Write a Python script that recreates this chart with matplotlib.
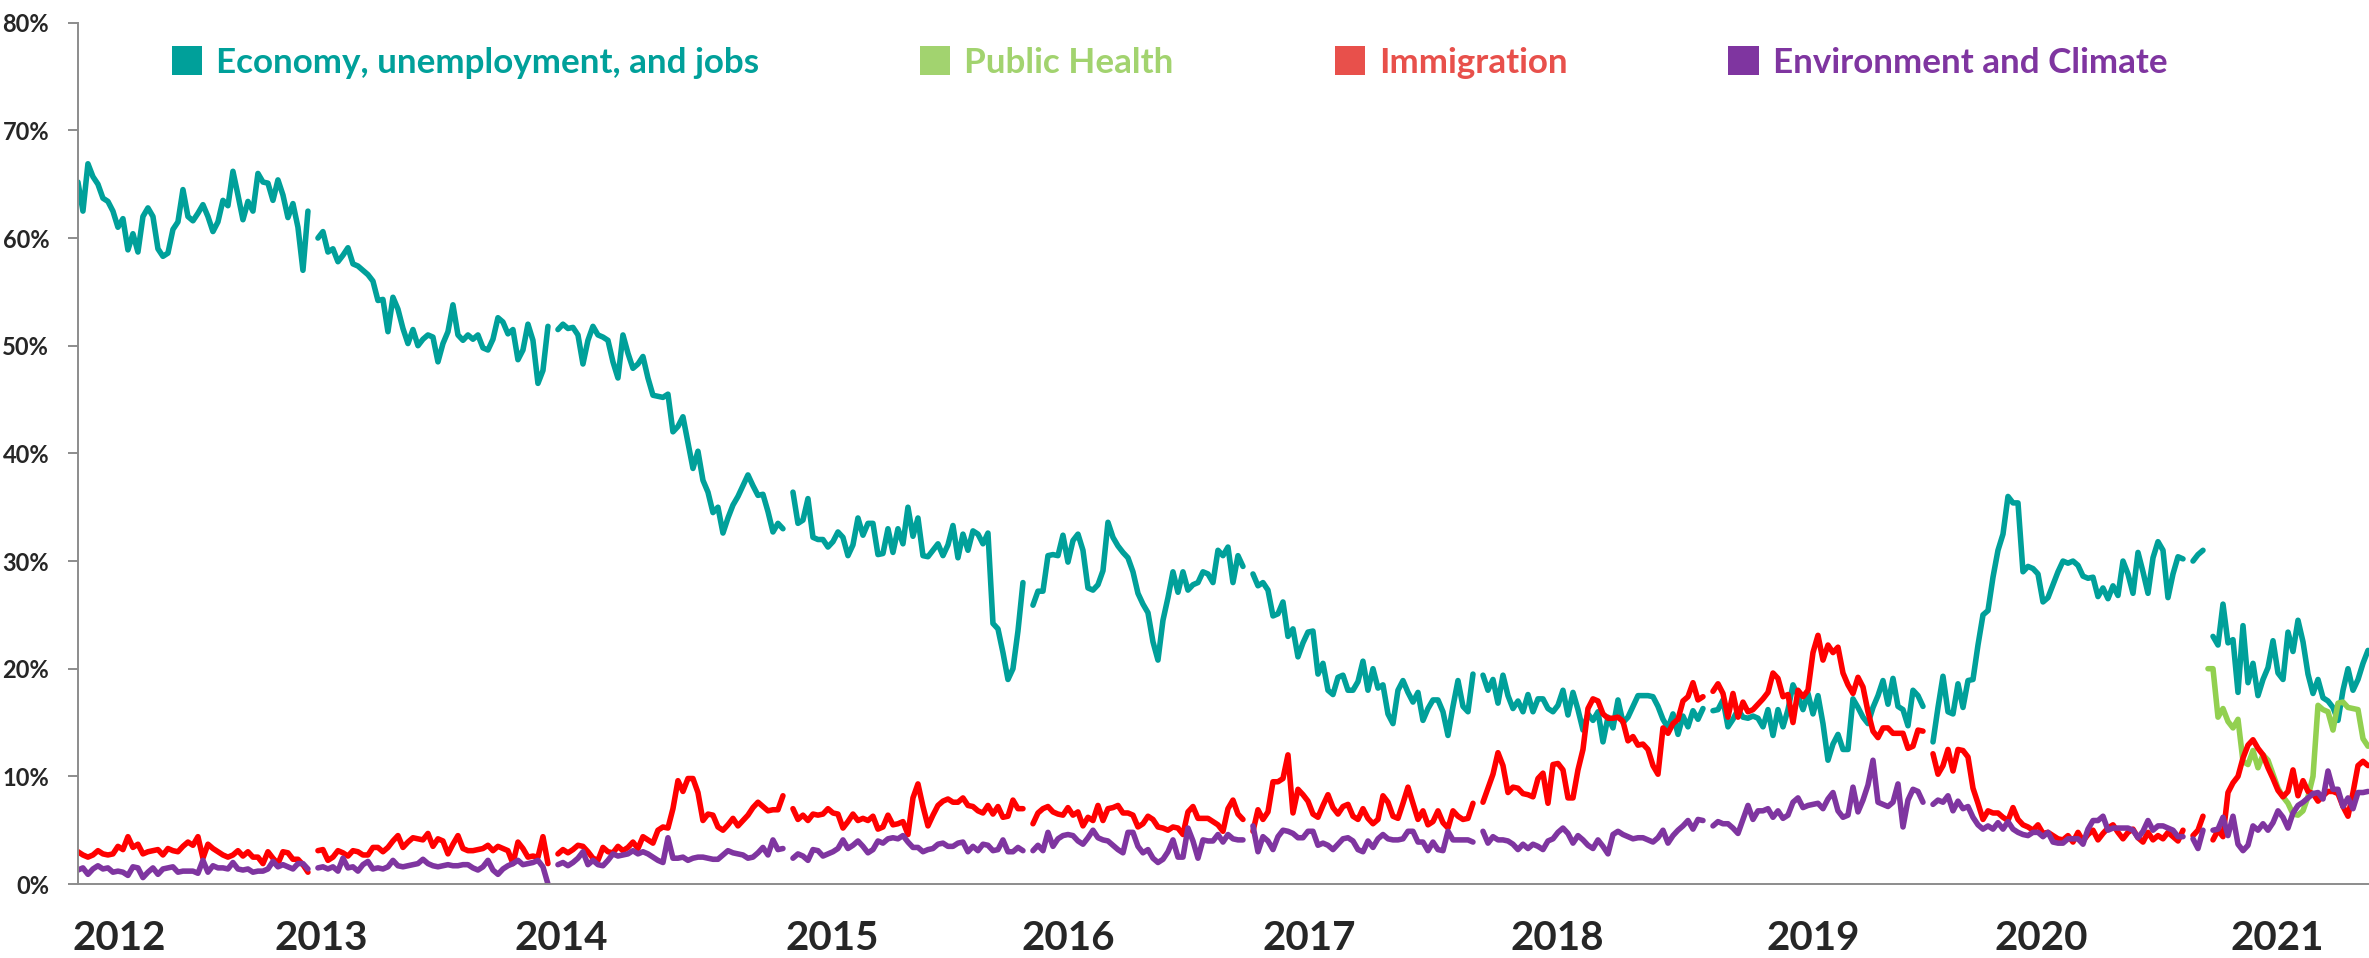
import numpy as np
import matplotlib.pyplot as plt
from matplotlib.patches import Patch
from matplotlib.ticker import FuncFormatter

# share of respondents (%) per weekly survey, None = no survey that week
economy = [
    65.2, 62.5, 66.9, 65.7, 65.0, 63.7, 63.4, 62.5, 61.0, 61.8,
    58.9, 60.4, 58.7, 62.0, 62.8, 62.0, 59.0, 58.3, 58.6, 60.8,
    61.5, 64.5, 62.0, 61.6, 62.3, 63.1, 62.0, 60.6, 61.5, 63.5,
    63.0, 66.2, 64.0, 61.7, 63.4, 62.5, 66.0, 65.2, 65.1, 63.5,
    65.4, 64.0, 61.9, 63.2, 61.0, 57.0, 62.5, None, 60.0, 60.6,
    58.7, 59.0, 57.8, 58.4, 59.1, 57.6, 57.4, 57.0, 56.6, 56.0,
    54.2, 54.3, 51.3, 54.5, 53.4, 51.6, 50.2, 51.5, 50.0, 50.6,
    51.0, 50.8, 48.5, 50.2, 51.3, 53.8, 51.0, 50.5, 51.0, 50.6,
    51.0, 49.8, 49.6, 50.6, 52.6, 52.2, 51.1, 51.5, 48.7, 49.6,
    52.0, 50.5, 46.5, 47.7, 51.8, None, 51.5, 52.0, 51.6, 51.7,
    51.0, 48.3, 50.5, 51.8, 51.0, 50.8, 50.5, 48.5, 47.0, 51.0,
    49.3, 47.9, 48.3, 49.0, 47.0, 45.4, 45.3, 45.2, 45.5, 42.0,
    42.5, 43.4, 41.0, 38.6, 40.2, 37.5, 36.4, 34.5, 35.0, 32.6,
    34.0, 35.2, 36.0, 37.0, 38.0, 37.0, 36.1, 36.2, 34.6, 32.7,
    33.5, 33.0, None, 36.4, 33.5, 33.8, 35.8, 32.2, 32.0, 32.0,
    31.3, 31.8, 32.7, 32.2, 30.5, 31.5, 34.0, 32.4, 33.5, 33.5,
    30.6, 30.7, 33.0, 30.8, 33.0, 31.6, 35.0, 32.3, 34.0, 30.5,
    30.4, 31.0, 31.6, 30.5, 31.5, 33.3, 30.3, 32.5, 31.0, 32.8,
    32.5, 31.6, 32.6, 24.2, 23.7, 21.5, 19.0, 20.0, 23.5, 28.0,
    None, 25.9, 27.2, 27.2, 30.5, 30.6, 30.5, 32.4, 29.9, 31.9,
    32.5, 31.0, 27.5, 27.3, 27.8, 29.1, 33.6, 32.2, 31.4, 30.8,
    30.3, 29.0, 27.0, 26.0, 25.2, 22.5, 20.8, 24.5, 26.6, 29.0,
    27.1, 29.0, 27.3, 27.8, 28.0, 29.0, 28.8, 28.0, 31.0, 30.5,
    31.3, 28.0, 30.5, 29.5, None, 28.8, 27.7, 28.0, 27.3, 24.9,
    25.1, 26.2, 23.0, 23.7, 21.1, 22.4, 23.4, 23.5, 19.5, 20.5,
    18.0, 17.6, 19.2, 19.4, 18.0, 18.0, 18.8, 20.7, 18.0, 20.0,
    18.2, 18.5, 15.8, 14.9, 18.0, 18.9, 17.8, 16.9, 17.8, 15.2,
    16.3, 17.1, 17.1, 16.0, 13.8, 16.5, 18.9, 16.5, 16.0, 19.5,
    None, 19.4, 18.0, 19.0, 16.8, 19.4, 17.5, 16.3, 17.0, 16.0,
    17.6, 16.0, 17.2, 17.2, 16.3, 16.0, 16.6, 18.0, 15.7, 17.8,
    16.2, 14.3, 15.8, 15.2, 16.0, 13.2, 15.5, 14.5, 17.1, 15.0,
    15.5, 16.5, 17.5, 17.5, 17.5, 17.4, 16.5, 15.3, 14.5, 15.8,
    13.9, 15.6, 14.6, 16.1, 15.3, 16.3, None, 16.1, 16.2, 17.1,
    14.6, 15.3, 16.2, 15.5, 15.4, 15.6, 15.4, 14.6, 16.2, 13.8,
    16.2, 14.6, 16.2, 18.5, 17.5, 16.2, 17.7, 15.8, 17.5, 14.9,
    11.5, 13.0, 13.9, 12.5, 12.5, 17.2, 16.4, 15.5, 14.9, 16.4,
    17.5, 18.9, 16.7, 19.1, 16.5, 16.2, 14.7, 18.0, 17.5, 16.5,
    None, 13.2, 16.4, 19.3, 16.0, 15.8, 18.6, 16.4, 18.9, 19.0,
    22.2, 25.0, 25.4, 28.5, 31.0, 32.5, 36.0, 35.4, 35.4, 29.0,
    29.5, 29.3, 28.8, 26.2, 26.6, 27.8, 29.0, 30.0, 29.8, 30.0,
    29.6, 28.6, 28.4, 28.5, 26.7, 27.5, 26.5, 27.7, 26.8, 30.0,
    28.8, 27.0, 30.8, 29.0, 27.0, 30.3, 31.8, 31.0, 26.6, 28.8,
    30.4, 30.2, None, 30.0, 30.6, 31.0, None, 23.0, 22.2, 26.0,
    22.4, 22.7, 17.8, 24.0, 18.7, 20.5, 17.5, 19.0, 20.1, 22.6,
    19.6, 19.0, 23.4, 21.6, 24.5, 22.5, 19.5, 17.7, 19.0, 17.3,
    17.0, 16.4, 15.2, 18.0, 20.0, 18.0, 19.0, 20.5, 21.7,
]

immigration = [
    3.0, 2.7, 2.5, 2.7, 3.1, 2.8, 2.7, 2.8, 3.5, 3.2,
    4.4, 3.4, 3.7, 2.8, 3.0, 3.1, 3.2, 2.7, 3.3, 3.1,
    3.0, 3.5, 3.9, 3.6, 4.4, 2.4, 3.7, 3.3, 3.0, 2.7,
    2.5, 2.7, 3.1, 2.6, 3.0, 2.5, 2.5, 1.9, 3.0, 2.4,
    1.9, 3.0, 2.9, 2.3, 2.3, 1.8, 1.1, None, 3.1, 3.2,
    2.2, 2.5, 3.1, 2.9, 2.6, 3.1, 3.0, 2.7, 2.7, 3.4,
    3.4, 3.0, 3.4, 4.0, 4.5, 3.4, 3.9, 4.3, 4.2, 4.1,
    4.7, 3.5, 4.2, 4.0, 2.8, 3.7, 4.5, 3.3, 3.1, 3.1,
    3.2, 3.3, 3.6, 3.1, 3.5, 3.3, 3.1, 1.9, 3.9, 3.3,
    2.5, 2.6, 2.5, 4.4, 1.9, None, 2.8, 3.2, 2.9, 3.2,
    3.6, 3.5, 3.0, 2.4, 2.2, 3.4, 3.0, 2.9, 3.5, 3.1,
    3.4, 3.9, 3.3, 4.4, 4.1, 3.8, 5.0, 5.3, 5.2, 7.0,
    9.6, 8.6, 9.8, 9.8, 8.5, 5.9, 6.5, 6.4, 5.3, 5.0,
    5.5, 6.1, 5.4, 5.9, 6.4, 7.1, 7.6, 7.2, 6.8, 6.9,
    6.9, 8.2, None, 7.0, 6.0, 6.4, 5.9, 6.5, 6.4, 6.5,
    7.0, 6.6, 6.5, 5.2, 5.8, 6.5, 5.9, 6.1, 5.9, 6.3,
    5.1, 5.3, 6.4, 5.5, 5.6, 5.8, 4.6, 8.0, 9.3, 7.2,
    5.4, 6.4, 7.3, 7.7, 7.9, 7.6, 7.6, 8.0, 7.3, 7.2,
    6.8, 6.6, 7.3, 6.5, 7.2, 6.2, 6.3, 7.8, 7.0, 7.0,
    None, 5.6, 6.6, 7.0, 7.2, 6.7, 6.5, 6.4, 7.1, 6.4,
    6.7, 5.4, 6.2, 5.9, 7.3, 5.9, 7.0, 7.1, 7.3, 6.6,
    6.6, 6.4, 5.3, 5.6, 6.3, 6.0, 5.3, 5.2, 5.0, 5.3,
    5.2, 4.6, 6.7, 7.2, 6.1, 6.1, 6.1, 5.8, 5.5, 4.9,
    7.0, 7.8, 6.5, 6.0, None, 4.9, 6.9, 6.0, 6.7, 9.5,
    9.5, 9.8, 12.0, 6.6, 8.8, 8.3, 7.7, 6.5, 6.2, 7.3,
    8.3, 7.1, 6.5, 7.2, 7.4, 6.3, 6.0, 7.0, 6.1, 5.6,
    6.0, 8.2, 7.6, 6.3, 6.1, 7.5, 9.0, 7.5, 6.0, 6.8,
    5.5, 5.8, 6.8, 5.7, 5.2, 6.8, 6.3, 6.0, 6.1, 7.5,
    None, 7.6, 8.9, 10.2, 12.2, 11.0, 8.5, 9.0, 8.9, 8.4,
    8.3, 8.1, 9.8, 10.3, 7.5, 11.1, 11.2, 10.6, 8.0, 8.0,
    10.6, 12.5, 16.3, 17.2, 17.0, 15.8, 15.4, 15.4, 15.5, 15.1,
    13.3, 13.7, 12.9, 13.0, 12.5, 11.0, 10.2, 14.5, 14.0, 14.9,
    15.3, 17.0, 17.4, 18.7, 17.1, 17.4, None, 17.9, 18.6, 17.7,
    15.5, 17.7, 15.5, 16.9, 16.0, 16.2, 16.7, 17.2, 17.8, 19.6,
    19.1, 17.4, 17.6, 15.0, 18.0, 17.4, 18.0, 21.5, 23.1, 20.8,
    22.2, 21.5, 22.0, 19.6, 18.5, 17.7, 19.2, 18.3, 16.0, 14.2,
    13.6, 14.5, 14.5, 14.0, 14.0, 14.0, 12.6, 12.8, 14.3, 14.2,
    None, 12.1, 10.2, 11.0, 12.5, 10.5, 12.5, 12.4, 11.8, 8.9,
    7.5, 6.0, 6.8, 6.6, 6.6, 6.2, 5.9, 7.1, 6.0, 5.5,
    5.3, 5.0, 5.5, 4.7, 4.8, 4.5, 4.2, 4.1, 4.5, 3.9,
    4.8, 4.0, 4.6, 5.0, 4.1, 4.7, 5.2, 5.5, 4.8, 4.2,
    4.8, 5.1, 4.3, 3.9, 4.8, 4.1, 4.5, 4.2, 4.8, 4.4,
    4.0, 5.0, None, 4.5, 5.0, 6.3, None, 4.1, 5.0, 4.4,
    8.5, 9.4, 10.0, 11.7, 12.9, 13.4, 12.6, 12.0, 10.8, 9.8,
    8.7, 8.1, 8.6, 10.6, 8.2, 9.6, 8.6, 8.4, 7.7, 8.2,
    8.6, 8.6, 8.4, 7.2, 6.3, 8.5, 11.0, 11.4, 11.0,
]

environment = [
    1.3, 1.5, 0.9, 1.4, 1.7, 1.4, 1.5, 1.1, 1.2, 1.1,
    0.8, 1.6, 1.5, 0.6, 1.1, 1.5, 0.9, 1.4, 1.5, 1.6,
    1.1, 1.2, 1.2, 1.2, 1.0, 2.2, 1.1, 1.7, 1.5, 1.5,
    1.4, 2.0, 1.4, 1.3, 1.4, 1.1, 1.2, 1.2, 1.4, 2.1,
    1.6, 1.8, 1.6, 1.4, 1.9, 1.9, 1.4, None, 1.5, 1.6,
    1.4, 1.6, 1.2, 2.4, 1.5, 1.6, 1.2, 1.8, 2.1, 1.4,
    1.5, 1.4, 1.6, 2.2, 1.7, 1.6, 1.7, 1.8, 1.9, 2.3,
    1.9, 1.7, 1.6, 1.7, 1.8, 1.7, 1.7, 1.8, 1.8, 1.5,
    1.3, 1.6, 2.2, 1.3, 0.9, 1.4, 1.7, 1.9, 2.2, 1.8,
    1.9, 2.0, 2.2, 1.6, 0.0, None, 1.8, 2.0, 1.7, 2.0,
    2.4, 3.0, 1.8, 2.2, 1.8, 1.7, 2.2, 2.8, 2.6, 2.7,
    2.8, 3.1, 2.8, 3.0, 2.8, 2.5, 2.2, 2.0, 4.3, 2.4,
    2.4, 2.5, 2.2, 2.4, 2.5, 2.5, 2.4, 2.3, 2.3, 2.7,
    3.1, 2.9, 2.8, 2.7, 2.4, 2.5, 2.9, 3.4, 2.7, 4.1,
    3.2, 3.3, None, 2.4, 2.8, 2.6, 2.2, 3.2, 3.1, 2.6,
    2.8, 3.0, 3.3, 4.1, 3.3, 3.6, 4.0, 3.5, 2.9, 3.2,
    4.0, 3.8, 4.2, 4.3, 4.2, 4.5, 3.9, 3.4, 3.4, 3.0,
    3.2, 3.3, 3.7, 3.8, 3.5, 3.5, 3.8, 3.9, 3.0, 3.5,
    3.1, 3.7, 3.6, 3.1, 3.2, 4.1, 3.0, 3.0, 3.4, 3.1,
    None, 3.1, 3.6, 3.1, 4.8, 3.5, 4.2, 4.5, 4.6, 4.5,
    4.0, 3.7, 4.3, 5.0, 4.3, 4.1, 4.0, 3.6, 3.2, 2.9,
    4.8, 4.8, 3.5, 2.9, 3.2, 2.4, 2.0, 2.3, 3.0, 4.1,
    2.5, 2.5, 5.2, 4.0, 2.4, 4.1, 4.0, 4.0, 4.6, 3.9,
    4.6, 4.2, 4.1, 4.1, None, 5.4, 3.0, 4.4, 4.0, 3.2,
    4.4, 5.0, 4.9, 4.7, 4.3, 4.3, 4.9, 4.9, 3.6, 3.8,
    3.6, 3.2, 3.7, 4.2, 4.3, 4.0, 3.2, 3.0, 4.0, 3.4,
    4.2, 4.6, 4.2, 4.1, 4.1, 4.2, 4.9, 4.9, 3.9, 3.9,
    3.1, 3.9, 3.2, 3.1, 4.9, 4.1, 4.1, 4.1, 4.1, 3.9,
    None, 4.9, 3.8, 4.4, 4.1, 4.1, 4.0, 3.7, 3.2, 3.7,
    3.3, 3.7, 3.5, 3.2, 4.0, 4.2, 4.8, 5.2, 4.7, 3.8,
    4.5, 4.1, 3.6, 3.3, 4.1, 3.5, 2.8, 4.6, 4.9, 4.6,
    4.4, 4.2, 4.3, 4.3, 4.1, 3.9, 4.3, 5.0, 3.8, 4.5,
    5.0, 5.4, 5.9, 5.1, 6.0, 5.9, None, 5.4, 5.8, 5.6,
    5.6, 5.2, 4.7, 6.0, 7.3, 6.0, 6.8, 6.8, 7.0, 6.2,
    6.8, 6.1, 6.4, 7.6, 8.0, 7.1, 7.3, 7.4, 7.5, 7.0,
    7.9, 8.5, 6.8, 6.2, 6.4, 9.0, 6.7, 7.8, 9.2, 11.5,
    7.6, 7.4, 7.2, 7.6, 9.3, 5.3, 7.8, 8.8, 8.6, 7.6,
    None, 7.4, 7.8, 7.6, 8.2, 6.8, 7.7, 7.0, 7.2, 6.2,
    5.5, 5.1, 5.4, 5.1, 5.7, 5.1, 5.8, 5.1, 4.8, 4.6,
    4.5, 4.8, 4.8, 4.4, 4.8, 3.9, 3.8, 3.8, 4.2, 4.2,
    4.2, 3.7, 5.1, 5.9, 5.9, 6.3, 5.0, 5.2, 5.2, 5.2,
    5.2, 5.0, 4.3, 4.9, 5.9, 5.0, 5.4, 5.4, 5.2, 5.0,
    4.4, 4.4, None, 4.2, 3.3, 5.0, None, 5.0, 5.1, 6.2,
    4.5, 6.3, 3.7, 3.1, 3.6, 5.4, 5.0, 5.6, 5.0, 5.7,
    6.8, 6.2, 5.2, 6.6, 7.3, 7.6, 8.0, 8.4, 8.5, 7.9,
    10.5, 8.8, 8.8, 7.2, 8.0, 7.0, 8.5, 8.5, 8.6,
]

# public health was only asked from late 2020 on (starts at survey week 426)
health_start = 426
public_health = [
    20.0, 20.0, 15.5, 16.3, 15.1, 14.5, 15.3, 11.4, 11.1, 12.4,
    10.8, 12.0, 11.5, 10.2, 8.9, 8.1, 7.5, 6.5, 6.4, 6.8,
    8.1, 10.0, 16.6, 16.2, 16.0, 14.3, 16.8, 16.9, 16.4, 16.3,
    16.2, 13.5, 12.8,
]

years = ['2012', '2013', '2014', '2015', '2016', '2017', '2018', '2019', '2020', '2021']
year_week = [8.2, 48.6, 96.6, 150.8, 198.0, 246.2, 295.8, 347.0, 392.6, 439.8]

names = ['Economy, unemployment, and jobs', 'Public Health', 'Immigration', 'Environment and Climate']
line_colors = ['#00A09A', '#92D050', '#FF0000', '#7F35A0']
legend_colors = ['#00A09A', '#A2D36F', '#E8504B', '#7F35A0']

plt.rcParams['font.family'] = ['Lato', 'DejaVu Sans']
plt.rcParams['font.weight'] = 'bold'

fig = plt.figure(figsize=(23.69, 9.58), dpi=100)
ax = fig.add_axes([0.0329, 0.0772, 0.9671, 0.8991])

series = [
    (np.arange(len(economy)), economy),
    (np.arange(health_start, health_start + len(public_health)), public_health),
    (np.arange(len(immigration)), immigration),
    (np.arange(len(environment)), environment),
]
for (xs, ys), c in zip(series, line_colors):
    ax.plot(xs, np.array(ys, dtype=float), color=c, lw=4.0,
            solid_joinstyle='round', solid_capstyle='round')

ax.set_xlim(0, len(economy) - 0.8)
ax.set_ylim(0, 80)
ax.set_yticks(range(0, 81, 10))
ax.yaxis.set_major_formatter(FuncFormatter(lambda v, _: f'{v:.0f}%'))
ax.set_xticks(year_week)
ax.set_xticklabels(years)

ax.tick_params(axis='x', length=0, pad=26, labelsize=29, labelcolor='#262626')
ax.tick_params(axis='y', length=7.2, width=1.4, color='#8c8c8c', pad=13.5,
               labelsize=17, labelcolor='#262626')
for s in ['top', 'right']:
    ax.spines[s].set_visible(False)
for s in ['left', 'bottom']:
    ax.spines[s].set_color('#8c8c8c')
    ax.spines[s].set_linewidth(1.4)

handles = [Patch(facecolor=c, edgecolor='none') for c in legend_colors]
ax.legend(handles, names, loc='upper left', bbox_to_anchor=(172 / 2369, 1 - 46 / 958),
          bbox_transform=fig.transFigure, ncol=4, frameon=False,
          prop={'size': 25.2, 'weight': 'bold'}, handlelength=0.86, handleheight=0.9,
          handletextpad=0.4, columnspacing=4.6, borderpad=0, borderaxespad=0,
          labelcolor=legend_colors)

fig.savefig('out.png', dpi=100)
